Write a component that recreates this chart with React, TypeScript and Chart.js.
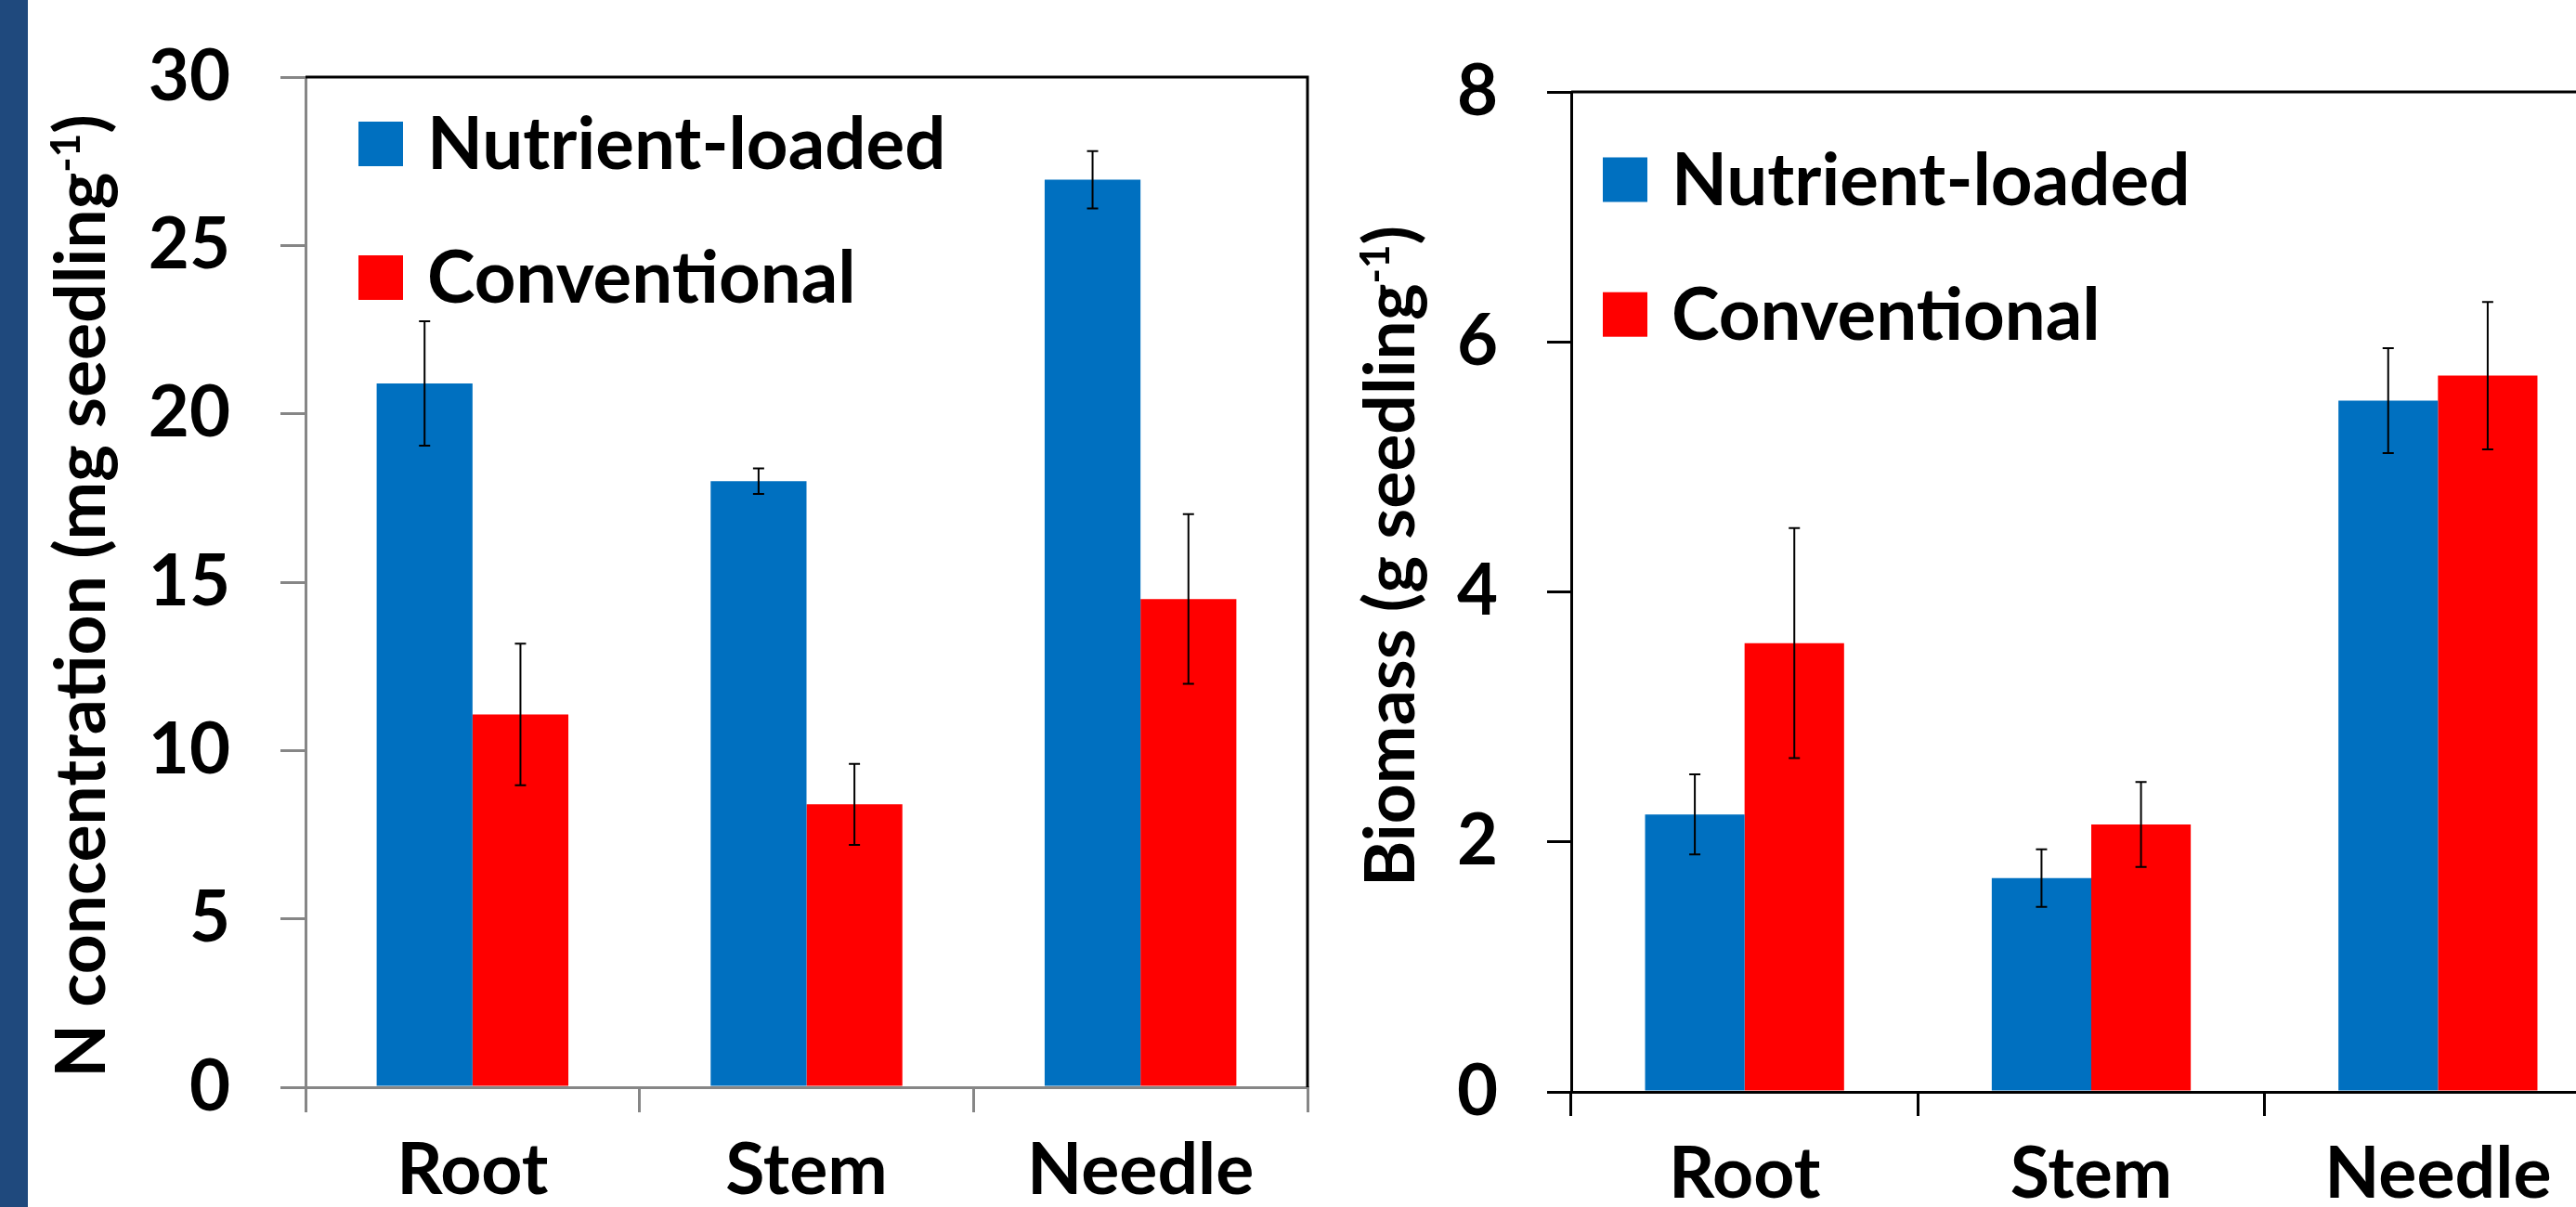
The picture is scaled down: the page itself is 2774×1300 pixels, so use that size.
import React, { useEffect, useRef } from "react";
import { Chart, registerables } from "chart.js";

Chart.register(...registerables);

// ---------- data ----------
const categories = ["Root", "Stem", "Needle"];
const seriesNames = ["Nutrient-loaded", "Conventional"];
const seriesColors = ["#0070C0", "#FF0000"];

const nConcLoaded = [20.9, 18.0, 26.95];
const nConcLoadedErr = [1.85, 0.38, 0.85];
const nConcConventional = [11.07, 8.4, 14.5];
const nConcConventionalErr = [2.1, 1.2, 2.52];

const biomassLoaded = [2.22, 1.71, 5.53];
const biomassLoadedErr = [0.32, 0.23, 0.42];
const biomassConventional = [3.59, 2.14, 5.73];
const biomassConventionalErr = [0.92, 0.34, 0.59];

const nConcAxis = { min: 0, max: 30, step: 5 };
const biomassAxis = { min: 0, max: 8, step: 2 };

const nConcTitle = ["N concentration (mg seedling", "-1", ")"];
const biomassTitle = ["Biomass (g seedling", "-1", ")"];

const FONT = "Lato";

type PanelCfg = {
  canvasLeft: number;
  canvasWidth: number;
  yAxisWidth: number;
  xAxisHeight: number;
  padTop: number;
  padRight: number;
  axisColor: string;
  tickLen: number;
  yTickPad: number;
  xTickPad: number;
  axis: { min: number; max: number; step: number };
  values: number[][];
  errors: number[][];
  legendDx: number;
  legendDy: number[];
  titleParts: string[];
  titleX: number;
  titleY: number;
};

function errorBarPlugin(errs: number[][]) {
  return {
    id: "errorBars",
    afterDatasetsDraw(chart: any) {
      const ctx = chart.ctx;
      const ys = chart.scales.y;
      ctx.save();
      ctx.strokeStyle = "#000";
      ctx.lineWidth = 2;
      chart.data.datasets.forEach((ds: any, i: number) => {
        const meta = chart.getDatasetMeta(i);
        meta.data.forEach((bar: any, j: number) => {
          const v = ds.data[j];
          const e = errs[i][j];
          const x = bar.x;
          const y1 = ys.getPixelForValue(v + e);
          const y2 = ys.getPixelForValue(v - e);
          ctx.beginPath();
          ctx.moveTo(x, y1);
          ctx.lineTo(x, y2);
          ctx.moveTo(x - 6, y1);
          ctx.lineTo(x + 6, y1);
          ctx.moveTo(x - 6, y2);
          ctx.lineTo(x + 6, y2);
          ctx.stroke();
        });
      });
      ctx.restore();
    },
  };
}

function decorPlugin(cfg: PanelCfg) {
  return {
    id: "decor",
    afterDraw(chart: any) {
      const ctx = chart.ctx;
      const a = chart.chartArea;
      ctx.save();
      // top & right frame
      ctx.strokeStyle = "#000";
      ctx.lineWidth = 3;
      ctx.beginPath();
      ctx.moveTo(a.left, a.top);
      ctx.lineTo(a.right, a.top);
      ctx.lineTo(a.right, a.bottom);
      ctx.stroke();

      // legend
      ctx.font = `bold 78px ${FONT}`;
      ctx.textBaseline = "middle";
      ctx.textAlign = "left";
      chart.data.datasets.forEach((ds: any, i: number) => {
        const cy = a.top + cfg.legendDy[i];
        const sx = a.left + cfg.legendDx;
        ctx.fillStyle = ds.backgroundColor;
        ctx.fillRect(sx, cy - 24, 48, 48);
        ctx.fillStyle = "#000";
        ctx.fillText(ds.label, sx + 74, cy + 2);
      });

      // rotated y title with superscript
      const [main, sup, tail] = cfg.titleParts;
      const mainFont = `bold 75px ${FONT}`;
      const supFont = `bold 44px ${FONT}`;
      ctx.font = mainFont;
      const wMain = ctx.measureText(main).width;
      const wTail = ctx.measureText(tail).width;
      ctx.font = supFont;
      const wSup = ctx.measureText(sup).width;
      const total = wMain + wSup + wTail;
      ctx.translate(cfg.titleX, cfg.titleY);
      ctx.rotate(-Math.PI / 2);
      ctx.textBaseline = "alphabetic";
      ctx.fillStyle = "#000";
      let u = -total / 2;
      ctx.font = mainFont;
      ctx.fillText(main, u, 0);
      u += wMain;
      ctx.font = supFont;
      ctx.fillText(sup, u, -27);
      u += wSup;
      ctx.font = mainFont;
      ctx.fillText(tail, u, 0);
      ctx.restore();
    },
  };
}

function makeChart(canvas: HTMLCanvasElement, cfg: PanelCfg) {
  return new Chart(canvas, {
    type: "bar",
    data: {
      labels: categories,
      datasets: seriesNames.map((name, i) => ({
        label: name,
        data: cfg.values[i],
        backgroundColor: seriesColors[i],
        borderWidth: 0,
        categoryPercentage: 0.574,
        barPercentage: 1,
      })),
    },
    options: {
      responsive: false,
      animation: false,
      devicePixelRatio: 1,
      layout: { padding: { top: cfg.padTop, right: cfg.padRight, left: 0, bottom: 0 } },
      plugins: {
        legend: { display: false },
        tooltip: { enabled: false },
        title: { display: false },
      },
      scales: {
        x: {
          type: "category",
          offset: true,
          z: 1,
          afterFit: (s: any) => {
            s.height = cfg.xAxisHeight;
            s.paddingLeft = 0;
            s.paddingRight = 0;
          },
          grid: {
            offset: true,
            drawOnChartArea: false,
            drawTicks: true,
            tickLength: cfg.tickLen,
            color: cfg.axisColor,
            lineWidth: 3,
          },
          border: { display: true, color: cfg.axisColor, width: 3 },
          ticks: {
            color: "#000",
            padding: cfg.xTickPad,
            maxRotation: 0,
            font: { family: FONT, size: 77, weight: "bold" },
          },
        },
        y: {
          min: cfg.axis.min,
          max: cfg.axis.max,
          z: 1,
          afterFit: (s: any) => {
            s.width = cfg.yAxisWidth;
            s.paddingTop = 0;
            s.paddingBottom = 0;
          },
          grid: {
            drawOnChartArea: false,
            drawTicks: true,
            tickLength: cfg.tickLen,
            color: cfg.axisColor,
            lineWidth: 3,
          },
          border: { display: true, color: cfg.axisColor, width: 3 },
          ticks: {
            stepSize: cfg.axis.step,
            color: "#000",
            padding: cfg.yTickPad,
            font: { family: FONT, size: 76, weight: "bold" },
          },
        },
      },
    },
    plugins: [errorBarPlugin(cfg.errors), decorPlugin(cfg)],
  } as any);
}

const leftCfg: PanelCfg = {
  canvasLeft: 30,
  canvasWidth: 1390,
  yAxisWidth: 299,
  xAxisHeight: 129,
  padTop: 83,
  padRight: 12,
  axisColor: "#868686",
  tickLen: 27,
  yTickPad: 54,
  xTickPad: 17,
  axis: nConcAxis,
  values: [nConcLoaded, nConcConventional],
  errors: [nConcLoadedErr, nConcConventionalErr],
  legendDx: 57,
  legendDy: [72, 216],
  titleParts: nConcTitle,
  titleX: 83,
  titleY: 642,
};

const rightCfg: PanelCfg = {
  canvasLeft: 1420,
  canvasWidth: 1420,
  yAxisWidth: 272,
  xAxisHeight: 124,
  padTop: 99,
  padRight: 28,
  axisColor: "#000000",
  tickLen: 26,
  yTickPad: 53,
  xTickPad: 17,
  axis: biomassAxis,
  values: [biomassLoaded, biomassConventional],
  errors: [biomassLoadedErr, biomassConventionalErr],
  legendDx: 34,
  legendDy: [94.5, 239.7],
  titleParts: biomassTitle,
  titleX: 103,
  titleY: 599,
};

export default function App() {
  const leftRef = useRef<HTMLCanvasElement | null>(null);
  const rightRef = useRef<HTMLCanvasElement | null>(null);

  useEffect(() => {
    let charts: Chart[] = [];
    let cancelled = false;
    const build = () => {
      if (cancelled) return;
      if (leftRef.current) charts.push(makeChart(leftRef.current, leftCfg));
      if (rightRef.current) charts.push(makeChart(rightRef.current, rightCfg));
    };
    const fontsApi = (document as any).fonts;
    if (fontsApi && fontsApi.load) {
      Promise.all([fontsApi.load(`bold 76px ${FONT}`)])
        .catch(() => undefined)
        .then(build);
    } else {
      build();
    }
    return () => {
      cancelled = true;
      charts.forEach((c) => c.destroy());
      charts = [];
    };
  }, []);

  return (
    <div
      style={{
        position: "fixed",
        left: 0,
        top: 0,
        width: 2774,
        height: 1300,
        overflow: "hidden",
        background: "#ffffff",
      }}
    >
      <div
        style={{
          position: "absolute",
          left: 0,
          top: 0,
          width: 30,
          height: 1300,
          background: "#1F497D",
        }}
      />
      <canvas
        ref={leftRef}
        width={leftCfg.canvasWidth}
        height={1300}
        style={{
          position: "absolute",
          left: leftCfg.canvasLeft,
          top: 0,
          width: leftCfg.canvasWidth,
          height: 1300,
        }}
      />
      <canvas
        ref={rightRef}
        width={rightCfg.canvasWidth}
        height={1300}
        style={{
          position: "absolute",
          left: rightCfg.canvasLeft,
          top: 0,
          width: rightCfg.canvasWidth,
          height: 1300,
        }}
      />
    </div>
  );
}
